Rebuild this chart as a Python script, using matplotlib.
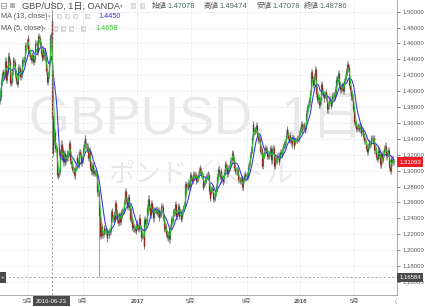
import numpy as np
import pandas as pd
import matplotlib
matplotlib.use('Agg')
import matplotlib.pyplot as plt
import matplotlib.transforms as mtrans
from matplotlib.patches import Rectangle

plt.rcParams['font.family'] = ['Liberation Sans', 'Noto Sans CJK JP', 'DejaVu Sans']

# ── Data: GBP/USD daily closes (OANDA) ──────────────────────────────────────
CLOSES = {
    '2016-03': [1.3930, 1.4063, 1.4133, 1.4228, 1.4238, 1.4197, 1.4200, 1.4267, 1.4385, 1.4370, 1.4142, 1.4244,
                1.4427, 1.4448, 1.4375, 1.4208, 1.4108, 1.4125, 1.4113, 1.4246, 1.4392, 1.4385, 1.4364],
    '2016-04': [1.4225, 1.4210, 1.4142, 1.4130, 1.4094, 1.4140, 1.4298, 1.4290, 1.4213, 1.4183, 1.4200, 1.4348,
                1.4395, 1.4365, 1.4370, 1.4405, 1.4445, 1.4583, 1.4577, 1.4622, 1.4617],
    '2016-05': [1.4670, 1.4513, 1.4479, 1.4458, 1.4430, 1.4396, 1.4435, 1.4458, 1.4414, 1.4367, 1.4409, 1.4461,
                1.4604, 1.4607, 1.4507, 1.4492, 1.4655, 1.4692, 1.4673, 1.4617, 1.4586, 1.4485],
    '2016-06': [1.4415, 1.4430, 1.4518, 1.4437, 1.4485, 1.4497, 1.4405, 1.4256, 1.4187, 1.4113, 1.4196, 1.4198,
                1.4357, 1.4685, 1.4681, 1.47078, 1.48786, 1.3679, 1.3224, 1.3364, 1.3491, 1.3311],
    '2016-07': [1.3280, 1.3286, 1.3032, 1.2942, 1.2931, 1.2955, 1.2986, 1.3232, 1.3183, 1.3340, 1.3182, 1.3256,
                1.3104, 1.3195, 1.3226, 1.3109, 1.3130, 1.3160, 1.3215, 1.3167, 1.3225],
    '2016-08': [1.3245, 1.3348, 1.3330, 1.3118, 1.3080, 1.3045, 1.3022, 1.3010, 1.3003, 1.2950, 1.2940, 1.3040,
                1.3046, 1.3172, 1.3074, 1.3079, 1.3192, 1.3237, 1.3233, 1.3207, 1.3101, 1.3138, 1.3131],
    '2016-09': [1.3280, 1.3302, 1.3340, 1.3414, 1.3315, 1.3308, 1.3271, 1.3304, 1.3158, 1.3225, 1.3255, 1.3062,
                1.3043, 1.2990, 1.3001, 1.3069, 1.2969, 1.2997, 1.2981, 1.2972, 1.2969, 1.2975],
    '2016-10': [1.2850, 1.2726, 1.2730, 1.2658, 1.2430, 1.2370, 1.2183, 1.2308, 1.2213, 1.2190, 1.2203, 1.2273,
                1.2256, 1.2243, 1.2230, 1.2236, 1.2148, 1.2226, 1.2228, 1.2193, 1.2237],
    '2016-11': [1.2245, 1.2305, 1.2484, 1.2487, 1.2394, 1.2390, 1.2448, 1.2395, 1.2592, 1.2533, 1.2474, 1.2464,
                1.2385, 1.2347, 1.2434, 1.2443, 1.2355, 1.2465, 1.2483, 1.2445, 1.2486, 1.2505],
    '2016-12': [1.2600, 1.2605, 1.2744, 1.2700, 1.2625, 1.2582, 1.2544, 1.2670, 1.2655, 1.2540, 1.2394, 1.2492,
                1.2385, 1.2290, 1.2352, 1.2273, 1.2285, 1.2275, 1.2260, 1.2245, 1.2297, 1.2340],
    '2017-01': [1.2290, 1.2266, 1.2294, 1.2411, 1.2279, 1.2160, 1.2176, 1.2202, 1.2190, 1.2180, 1.2059, 1.2390,
                1.2335, 1.2330, 1.2370, 1.2535, 1.2485, 1.2650, 1.2570, 1.2545, 1.2440, 1.2550],
    '2017-02': [1.2590, 1.2510, 1.2480, 1.2400, 1.2485, 1.2505, 1.2505, 1.2490, 1.2520, 1.2467, 1.2456, 1.2500,
                1.2412, 1.2443, 1.2470, 1.2455, 1.2557, 1.2545, 1.2427, 1.2410],
    '2017-03': [1.2283, 1.2268, 1.2300, 1.2260, 1.2210, 1.2170, 1.2160, 1.2200, 1.2245, 1.2135, 1.2290, 1.2350,
                1.2395, 1.2370, 1.2480, 1.2476, 1.2485, 1.2465, 1.2583, 1.2440, 1.2425, 1.2470, 1.2547],
    '2017-04': [1.2550, 1.2435, 1.2490, 1.2475, 1.2390, 1.2410, 1.2480, 1.2530, 1.2530, 1.2550, 1.2572, 1.2835,
                1.2790, 1.2810, 1.2822, 1.2794, 1.2850, 1.2800, 1.2930, 1.2945],
    '2017-05': [1.2915, 1.2895, 1.2872, 1.2910, 1.2960, 1.2940, 1.2935, 1.2945, 1.2875, 1.2885, 1.2900, 1.2900,
                1.2945, 1.3010, 1.3030, 1.3002, 1.2955, 1.2960, 1.2935, 1.2800, 1.2825, 1.2845, 1.2885],
    '2017-06': [1.2885, 1.2880, 1.2925, 1.2945, 1.2950, 1.2945, 1.2745, 1.2662, 1.2740, 1.2750, 1.2765, 1.2780,
                1.2735, 1.2650, 1.2665, 1.2675, 1.2720, 1.2730, 1.2805, 1.2930, 1.3000, 1.3025],
    '2017-07': [1.2955, 1.2930, 1.2940, 1.2995, 1.2890, 1.2880, 1.2865, 1.2890, 1.2980, 1.3085, 1.3070, 1.3040,
                1.3045, 1.2960, 1.2995, 1.3035, 1.3045, 1.3075, 1.3128, 1.3135, 1.3205],
    '2017-08': [1.3220, 1.3210, 1.3140, 1.3040, 1.3010, 1.2995, 1.2990, 1.2990, 1.3015, 1.2935, 1.2880, 1.2880,
                1.2885, 1.2870, 1.2910, 1.2845, 1.2795, 1.2800, 1.2885, 1.2940, 1.2955, 1.2915, 1.2925],
    '2017-09': [1.2945, 1.2935, 1.3020, 1.3050, 1.3095, 1.3195, 1.3200, 1.3270, 1.3265, 1.3425, 1.3590, 1.3505,
                1.3510, 1.3500, 1.3515, 1.3575, 1.3460, 1.3445, 1.3390, 1.3410, 1.3395],
    '2017-10': [1.3275, 1.3245, 1.3270, 1.3105, 1.3065, 1.3150, 1.3200, 1.3240, 1.3275, 1.3285, 1.3265, 1.3185,
                1.3215, 1.3185, 1.3190, 1.3210, 1.3260, 1.3285, 1.3130, 1.3135, 1.3270, 1.3280],
    '2017-11': [1.3280, 1.3060, 1.3075, 1.3160, 1.3125, 1.3140, 1.3185, 1.3190, 1.3115, 1.3170, 1.3185, 1.3230,
                1.3215, 1.3230, 1.3255, 1.3310, 1.3335, 1.3330, 1.3320, 1.3375, 1.3450, 1.3525],
    '2017-12': [1.3475, 1.3415, 1.3395, 1.3390, 1.3445, 1.3390, 1.3355, 1.3330, 1.3425, 1.3410, 1.3315, 1.3375,
                1.3375, 1.3390, 1.3385, 1.3390, 1.3405, 1.3395, 1.3420, 1.3475, 1.3510],
    '2018-01': [1.3510, 1.3590, 1.3520, 1.3555, 1.3565, 1.3570, 1.3535, 1.3520, 1.3535, 1.3720, 1.3790, 1.3800,
                1.3825, 1.3890, 1.3860, 1.3935, 1.3990, 1.4240, 1.4230, 1.4155, 1.4075, 1.4125, 1.4190],
    '2018-02': [1.4275, 1.4115, 1.3965, 1.3930, 1.3895, 1.3925, 1.3825, 1.3830, 1.3885, 1.3975, 1.4085, 1.4020,
                1.3990, 1.3965, 1.3910, 1.3955, 1.3965, 1.3990, 1.3915, 1.3780],
    '2018-03': [1.3770, 1.3810, 1.3885, 1.3895, 1.3890, 1.3815, 1.3850, 1.3890, 1.3950, 1.3955, 1.3945, 1.3925,
                1.4025, 1.3995, 1.4150, 1.4125, 1.4145, 1.4230, 1.4145, 1.4080, 1.4015, 1.4020],
    '2018-04': [1.4055, 1.4040, 1.4075, 1.4000, 1.4085, 1.4130, 1.4175, 1.4200, 1.4255, 1.4240, 1.4340, 1.4300,
                1.4195, 1.4080, 1.4020, 1.3935, 1.3975, 1.3925, 1.3920, 1.3780, 1.3760],
    '2018-05': [1.3610, 1.3590, 1.3580, 1.3525, 1.3545, 1.3550, 1.3560, 1.3535, 1.3530, 1.3565, 1.3480, 1.3500,
                1.3510, 1.3470, 1.3440, 1.3440, 1.3375, 1.3375, 1.3320, 1.3290, 1.3240, 1.3295, 1.3300],
    '2018-06': [1.3345, 1.3325, 1.3340, 1.3415, 1.3405, 1.3410, 1.3375, 1.3375, 1.3405, 1.3255, 1.3270, 1.3245,
                1.3175, 1.3150, 1.3255, 1.3260, 1.3250, 1.3185, 1.3080, 1.3070, 1.3205],
    '2018-07': [1.3135, 1.3160, 1.3225, 1.3235, 1.3280, 1.3315, 1.3245, 1.3180, 1.3215, 1.3225, 1.3255, 1.3105,
                1.3045, 1.2995, 1.3150, 1.3105, 1.3150, 1.3150, 1.3110, 1.31093],
}
FIRST_OPEN = 1.3875
# days whose high / low are known exactly (header values, crash lows)
HIGH_LOW = {
    '2016-06-23': (1.49474, 1.47078),
    '2016-06-24': (1.50180, 1.32290),
    '2016-10-07': (1.26400, 1.16584),
}
CROSS_DAY = '2016-06-23'
CROSS_PRICE = 1.16584
LAST_PRICE = 1.31093
HEADER_OHLC = [('始値', '1.47078'), ('高値', '1.49474'), ('安値', '1.47078'), ('終値', '1.48786')]
MA13_VAL, MA5_VAL = '1.4450', '1.4658'
XTICK_MONTHS = ['2016-05', '2016-09', '2017-01', '2017-05', '2017-09', '2018-01', '2018-05']
XTICK_LABELS = ['5月', '9月', '2017', '5月', '9月', '2018', '5月']

WICK = 0.004

# ── Build OHLC frame ─────────────────────────────────────────────────────────
dates, closes = [], []
for month, vals in CLOSES.items():
    days = pd.bdate_range(month + '-01', periods=len(vals))
    dates.extend(days)
    closes.extend(vals)
df = pd.DataFrame({'close': closes}, index=pd.DatetimeIndex(dates))
df['open'] = df['close'].shift(1).fillna(FIRST_OPEN)
df['high'] = df[['open', 'close']].max(axis=1) + WICK
df['low'] = df[['open', 'close']].min(axis=1) - WICK
for d, (h, l) in HIGH_LOW.items():
    df.loc[d, 'high'] = h
    df.loc[d, 'low'] = l
df['ma13'] = df['close'].rolling(13, min_periods=1).mean()
df['ma5'] = df['close'].rolling(5, min_periods=1).mean()
x = np.arange(len(df))
keys = df.index.strftime('%Y-%m')

# ── Figure ───────────────────────────────────────────────────────────────────
W, H = 425, 307
fig = plt.figure(figsize=(W / 100, H / 100), dpi=100)
ax = fig.add_axes([0, 12 / H, 397 / W, 295 / H])
ax.set_xlim(-0.3, 633)
ax.set_ylim(1.14365, 1.5147)

yt = np.arange(1.16, 1.5001, 0.02)
ax.set_yticks(yt)
ax.set_yticklabels([f'{v:.5f}' for v in yt])
ax.yaxis.tick_right()
ax.tick_params(axis='y', length=2, width=0.5, pad=2, labelsize=4.3,
               colors='#555555')
xt = [int(np.argmax(keys == m)) for m in XTICK_MONTHS]
ax.set_xticks(xt)
ax.set_xticklabels(XTICK_LABELS)
ax.tick_params(axis='x', length=0, pad=3, labelsize=4.4, colors='#555555')
for lbl in ax.get_xticklabels():
    if lbl.get_text().isdigit():
        lbl.set_fontweight('bold')
ax.grid(True, color='#ececec', linewidth=0.5, zorder=0)
ax.set_axisbelow(True)
for s in ['top', 'left']:
    ax.spines[s].set_visible(False)
for s in ['right', 'bottom']:
    ax.spines[s].set_color('#9a9a9a')
    ax.spines[s].set_linewidth(0.6)

# watermark
ax.text(0.495, 0.593, 'GBPUSD, 1日', transform=ax.transAxes, fontsize=38,
        color='#e8e8e8', ha='center', va='center', zorder=0.5)
ax.text(0.506, 0.41, 'ポンド／米ドル', transform=ax.transAxes, fontsize=19,
        color='#e8e8e8', ha='center', va='center', zorder=0.5,
        family=['Noto Sans CJK JP', 'DejaVu Sans'])

# candles
up = df['close'].values >= df['open'].values
ax.vlines(x, df['low'], df['high'], color='#737375', linewidth=0.45, zorder=2)
ax.vlines(x[up], df['open'][up], df['close'][up], color='#35774d',
          linewidth=0.9, zorder=2.1)
ax.vlines(x[~up], df['open'][~up], df['close'][~up], color='#8e261e',
          linewidth=0.9, zorder=2.1)

# moving averages
ax.plot(x, df['ma13'], color='#3232e6', linewidth=0.75, zorder=3)
ax.plot(x, df['ma5'], color='#2cc52c', linewidth=0.75, zorder=3)

# crosshair
xc = int(np.argmax(df.index == pd.Timestamp(CROSS_DAY)))
ax.axvline(xc, color='#8a8a8a', linewidth=0.6, linestyle=(0, (2.5, 2.5)), zorder=4)
ax.axhline(CROSS_PRICE, color='#9a9a9a', linewidth=0.6, linestyle=(0, (2.5, 2.5)), zorder=4)

ytr = mtrans.blended_transform_factory(ax.transAxes, ax.transData)
ax.text(1.006, LAST_PRICE, f'{LAST_PRICE:.5f}', transform=ytr, fontsize=4.3,
        color='white', va='center', ha='left', clip_on=False, zorder=6,
        bbox=dict(boxstyle='square,pad=0.35', fc='#ee1c25', ec='none'))
ax.text(1.006, CROSS_PRICE, f'{CROSS_PRICE:.5f}', transform=ytr, fontsize=4.3,
        color='white', va='center', ha='left', clip_on=False, zorder=6,
        bbox=dict(boxstyle='square,pad=0.35', fc='#4a4a4a', ec='none'))
xtr = mtrans.blended_transform_factory(ax.transData, ax.transAxes)
ax.text(xc, -0.021, CROSS_DAY, transform=xtr, fontsize=4.4, color='white',
        va='center', ha='center', clip_on=False, zorder=6,
        bbox=dict(boxstyle='square,pad=0.45', fc='#4a4a4a', ec='none'))

# ── Overlay in pixel coordinates: header and legend ──────────────────────────
ov = fig.add_axes([0, 0, 1, 1], zorder=10)
ov.set_xlim(0, W)
ov.set_ylim(H, 0)
ov.axis('off')
ov.patch.set_alpha(0)


def icon(x0, y0, s=5.5):
    ov.add_patch(Rectangle((x0, y0), s, s, fc='#d9d9d9', ec='none'))
    ov.add_patch(Rectangle((x0 + 1.6, y0 + 1.6), s - 3.2, s - 3.2, fc='#f7f7f7', ec='none'))


# header row
ov.add_patch(Rectangle((1, 3), 5, 5, fc='none', ec='#8a8a8a', lw=0.5))
ov.plot([2.2, 4.8], [5.5, 5.5], color='#8a8a8a', lw=0.5)
ov.add_patch(Rectangle((10, 3), 5, 5, fc='#b5b5b5', ec='none'))
ov.text(22, 6, 'GBP/USD, 1日, OANDA', fontsize=6.6, color='#4a4a4a', va='center')
ov.text(120, 6, '▾', fontsize=4, color='#999999', va='center',
        family=['DejaVu Sans'])
icon(131, 3.2)
icon(140, 3.2)
for (lab, val), x0 in zip(HEADER_OHLC, [152, 204, 257, 304]):
    ov.text(x0, 6, lab, fontsize=5.4, color='#555555', va='center')
    ov.text(x0 + 15.2, 6, val, fontsize=5.4, color='#4b6b5a', va='center')

# MA legend rows
ov.text(1, 16.5, 'MA (13, close)', fontsize=5.2, color='#555555', va='center')
ov.text(48, 16.5, '▾', fontsize=3.6, color='#999999', va='center',
        family=['DejaVu Sans'])
for x0 in [57, 65, 73, 85]:
    icon(x0, 13.8)
ov.text(98, 16.5, MA13_VAL, fontsize=5.2, color='#3232d0', va='center')

ov.text(1, 29, 'MA (5, close)', fontsize=5.2, color='#555555', va='center')
ov.text(43, 29, '▾', fontsize=3.6, color='#999999', va='center',
        family=['DejaVu Sans'])
for x0 in [53, 61, 69, 81]:
    icon(x0, 26.3)
ov.text(95, 29, MA5_VAL, fontsize=5.2, color='#2cc52c', va='center')

# crosshair marker on the left edge
ov.add_patch(Rectangle((0, 272), 6, 11, fc='#4a4a4a', ec='none'))
ov.text(3, 277.5, '+', fontsize=4.5, color='white', ha='center', va='center')
ov.text(396, 302, '(', fontsize=4, color='#777777', ha='center', va='center')

fig.savefig('out.png', dpi=100)
